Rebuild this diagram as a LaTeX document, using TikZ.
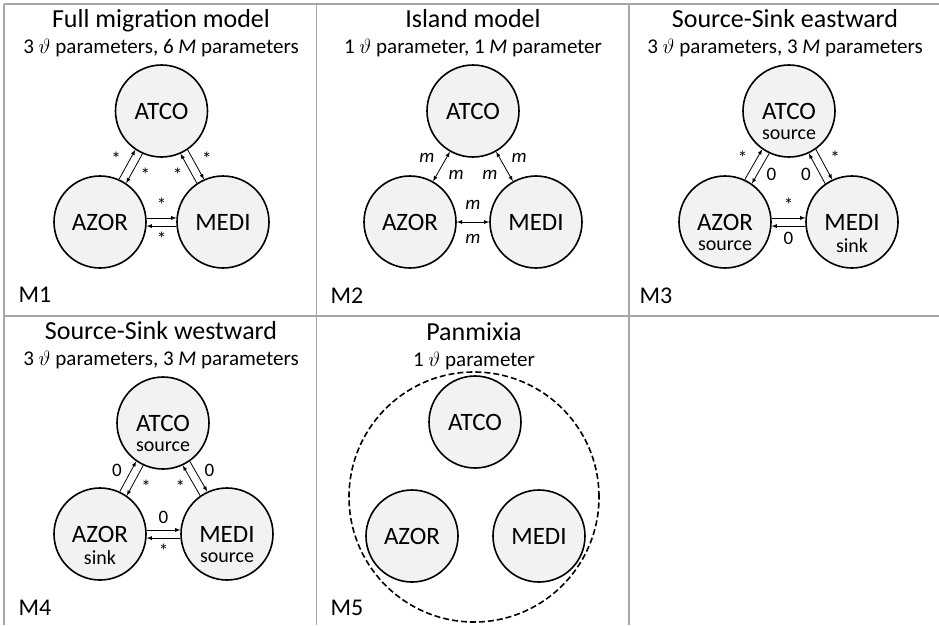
\documentclass[tikz,border=0pt]{standalone}
\usepackage{fontspec}
\setmainfont{Carlito}

\definecolor{popfill}{HTML}{F2F2F2}
\definecolor{rulegray}{HTML}{A6A6A6}

\tikzset{
  pop/.style={circle, draw, line width=1.6pt, fill=popfill, minimum size=92pt,
    inner sep=0pt, font=\fontsize{25}{29}\selectfont},
  role/.style={font=\fontsize{20}{24}\selectfont},
  title/.style={anchor=base, font=\fontsize{26}{30}\selectfont},
  subtitle/.style={anchor=base, font=\fontsize{21}{25}\selectfont},
  tag/.style={anchor=base west, font=\fontsize{24}{28}\selectfont},
  frame/.style={draw=rulegray, line width=1.4pt},
  mig/.style={->, line width=0.8pt},
  isl/.style={<->, line width=0.8pt},
  rate/.style={inner sep=0pt, font=\fontsize{19}{22}\selectfont},
  >=latex
}

% one-way rate #1 -> #2 on the left of the centre line (#3 = angle from #1 to #2)
\newcommand{\mig}[4]{%
  \pgfmathtruncatemacro{\migA}{#3+5}\pgfmathtruncatemacro{\migB}{#3+175}%
  \pgfmathtruncatemacro{\migC}{#3+21}\pgfmathtruncatemacro{\migD}{#3+159}%
  \draw[mig] (#1.\migA) -- (#2.\migB);
  \path (#1.\migC) -- (#2.\migD) node[midway, rate] {#4};}
% symmetric rate between #1 and #2
\newcommand{\isl}[3]{%
  \pgfmathtruncatemacro{\migC}{#3+21}\pgfmathtruncatemacro{\migD}{#3+159}%
  \pgfmathtruncatemacro{\migE}{#3-21}\pgfmathtruncatemacro{\migF}{#3+201}%
  \draw[isl] (#1) -- (#2);
  \path (#1.\migC) -- (#2.\migD) node[midway, rate] {\textit{m}};
  \path (#1.\migE) -- (#2.\migF) node[midway, rate] {\textit{m}};}

\begin{document}
\begin{tikzpicture}[x=1pt, y=-1pt]
\useasboundingbox (0,0) rectangle (939,625);

% table
\draw[frame] (4,4) -- (939,4);
\draw[frame] (4,316) -- (939,316);
\draw[frame] (4,4) -- (4,625);
\draw[frame] (316.5,4) -- (316.5,625);
\draw[frame] (629,4) -- (629,625);

% M1
\node[title] (t1) at (161,27) {Full migration model};
\node[subtitle] (s1) at (161,53) {3 $\vartheta$ parameters, 6 \textit{M} parameters};
\node[pop] (atco1) at (161.5,111) {ATCO};
\node[pop] (azor1) at (100,222) {AZOR};
\node[pop] (medi1) at (223,222) {MEDI};
\mig{azor1}{atco1}{61}{*}
\mig{atco1}{azor1}{241}{*}
\mig{atco1}{medi1}{-61}{*}
\mig{medi1}{atco1}{119}{*}
\mig{azor1}{medi1}{0}{*}
\mig{medi1}{azor1}{180}{*}
\node[tag] (m1) at (15,302) {M1};

% M2
\node[title] (t2) at (473,27) {Island model};
\node[subtitle] (s2) at (473,53) {1 $\vartheta$ parameter, 1 \textit{M} parameter};
\node[pop] (atco2) at (473,111) {ATCO};
\node[pop] (azor2) at (410,222) {AZOR};
\node[pop] (medi2) at (536,222) {MEDI};
\isl{azor2}{atco2}{60}
\isl{atco2}{medi2}{-60}
\isl{azor2}{medi2}{0}
\node[tag] (m2) at (327,303) {M2};

% M3
\node[title] (t3) at (785,27) {Source-Sink eastward};
\node[subtitle] (s3) at (785,53) {3 $\vartheta$ parameters, 3 \textit{M} parameters};
\node[pop] (atco3) at (789,111) {ATCO};
\node[pop] (azor3) at (725,222) {AZOR};
\node[pop] (medi3) at (852,222) {MEDI};
\node[role] (atco3r) at ([yshift=-24pt]atco3) {source};
\node[role] (azor3r) at ([yshift=-24pt]azor3) {source};
\node[role] (medi3r) at ([yshift=-24pt]medi3) {sink};
\mig{azor3}{atco3}{60}{*}
\mig{atco3}{azor3}{240}{0}
\mig{atco3}{medi3}{-60}{*}
\mig{medi3}{atco3}{120}{0}
\mig{azor3}{medi3}{0}{*}
\mig{medi3}{azor3}{180}{0}
\node[tag] (m3) at (636,303) {M3};

% M4
\node[title] (t4) at (161,339) {Source-Sink westward};
\node[subtitle] (s4) at (161,365) {3 $\vartheta$ parameters, 3 \textit{M} parameters};
\node[pop] (atco4) at (163,423) {ATCO};
\node[pop] (azor4) at (100,534) {AZOR};
\node[pop] (medi4) at (227,534) {MEDI};
\node[role] (atco4r) at ([yshift=-24pt]atco4) {source};
\node[role] (azor4r) at ([yshift=-24pt]azor4) {sink};
\node[role] (medi4r) at ([yshift=-24pt]medi4) {source};
\mig{azor4}{atco4}{60}{0}
\mig{atco4}{azor4}{240}{*}
\mig{atco4}{medi4}{-60}{0}
\mig{medi4}{atco4}{120}{*}
\mig{azor4}{medi4}{0}{0}
\mig{medi4}{azor4}{180}{*}
\node[tag] (m4) at (15,615) {M4};

% M5
\node[title] (t5) at (474,340) {Panmixia};
\node[subtitle] (s5) at (474,366) {1 $\vartheta$ parameter};
\node[circle, draw, dashed, line width=1.6pt, dash pattern=on 6pt off 3pt,
  minimum size=250pt] (pool) at (474,497) {};
\node[pop] (atco5) at (475,422) {ATCO};
\node[pop] (azor5) at (412,536) {AZOR};
\node[pop] (medi5) at (539,536) {MEDI};
\node[tag] (m5) at (327,615) {M5};
\end{tikzpicture}
\end{document}
